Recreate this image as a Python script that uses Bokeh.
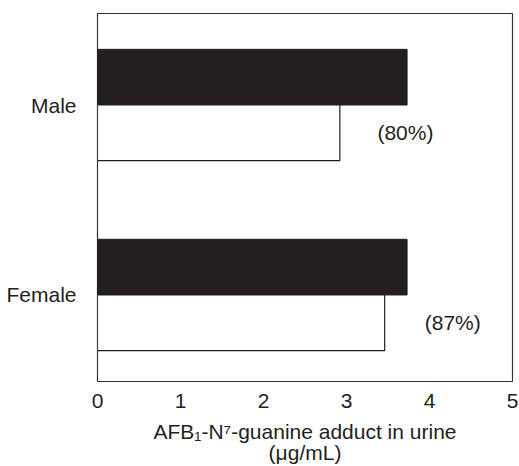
from bokeh.plotting import figure
from bokeh.models import Range1d, FixedTicker
from bokeh.core.properties import value
from bokeh.embed import file_html
from bokeh.resources import INLINE

groups = ["Male", "Female"]
group_pos = [2, 1]
total_adduct = [3.73, 3.73]
white_adduct = [2.92, 3.46]
pct_labels = ["(80%)", "(87%)"]
pct_label_x = [3.71, 4.28]
x_ticks = [0, 1, 2, 3, 4, 5]

INK = "#231f20"
FONT = "Liberation Sans"
FS = "21px"

p = figure(width=519, height=466, output_backend="svg", toolbar_location=None,
           x_range=Range1d(0, 5), y_range=Range1d(0.5445, 2.4817),
           min_border_left=97, min_border_top=13, min_border_right=7, min_border_bottom=83)

bh = 0.293
off = bh / 2
p.hbar(y=[g + off for g in group_pos], left=0, right=total_adduct, height=bh,
       fill_color=INK, line_color=INK, line_width=1)
p.hbar(y=[g - off for g in group_pos], left=0, right=white_adduct, height=bh,
       fill_color="white", line_color=INK, line_width=1.2)

p.text(x=pct_label_x, y=[g - off for g in group_pos], text=pct_labels,
       text_align="center", text_baseline="middle", text_font=value(FONT),
       text_font_size=FS, text_color=INK)

p.grid.visible = False
p.outline_line_color = "#333333"
p.outline_line_width = 1.2
p.background_fill_color = "white"
p.border_fill_color = "white"

p.xaxis.ticker = FixedTicker(ticks=x_ticks)
p.yaxis.ticker = FixedTicker(ticks=group_pos)
p.yaxis.major_label_overrides = {gp: g for gp, g in zip(group_pos, groups)}

for ax in (p.xaxis[0], p.yaxis[0]):
    ax.axis_line_color = None
    ax.major_tick_line_color = None
    ax.minor_tick_line_color = None
    ax.major_label_text_font = FONT
    ax.major_label_text_font_size = FS
    ax.major_label_text_color = INK

p.xaxis.major_label_standoff = 6
p.yaxis.major_label_standoff = 15
p.xaxis.axis_label = "AFB\u2081-N\u2077-guanine adduct in urine\n(\u03bcg/mL)"
p.xaxis.axis_label_text_font = FONT
p.xaxis.axis_label_text_font_style = "normal"
p.xaxis.axis_label_text_font_size = FS
p.xaxis.axis_label_text_color = INK
p.xaxis.axis_label_standoff = 9
p.xaxis.axis_label_text_line_height = 0.92

open("out.html", "w").write(file_html(p, INLINE))
